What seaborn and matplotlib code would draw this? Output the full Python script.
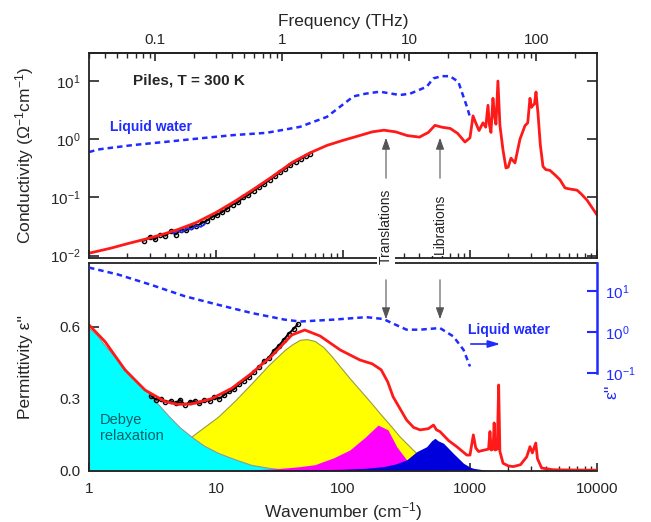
import matplotlib
matplotlib.use("Agg")
import matplotlib.pyplot as plt
import seaborn as sns
import pandas as pd
from matplotlib.ticker import FixedLocator, FixedFormatter, NullLocator, LogLocator, NullFormatter

# ---------------- data ----------------
# Top panel: conductivity (Ohm^-1 cm^-1) of simulated water (red)
red_top_wn = [1, 1.5, 2, 3, 4, 5, 7, 10, 14, 20, 28, 40, 55, 75, 100, 130, 170, 210, 260, 320,
              400, 470, 530, 600, 700, 800, 913, 1000, 1057, 1110, 1178, 1266, 1330, 1386, 1420,
              1463, 1517, 1560, 1602, 1660, 1722, 1820, 1920, 2000, 2102, 2261, 2477, 2712, 2850,
              2968, 3050, 3133, 3220, 3311, 3430, 3580, 3757, 3950, 4266, 4700, 5115, 5601, 6000,
              6960, 7500, 8340, 10000]
red_top_sigma = [0.011, 0.0135, 0.016, 0.02, 0.024, 0.028, 0.037, 0.055, 0.085, 0.14, 0.23, 0.40,
                 0.58, 0.78, 0.95, 1.12, 1.33, 1.42, 1.33, 1.15, 1.08, 1.3, 1.72, 1.6, 1.52, 1.25,
                 0.89, 1.05, 2.5, 1.9, 1.4, 1.9, 1.6, 3.8, 1.8, 1.3, 5.0, 2.5, 1.8, 9.9, 1.7, 0.65,
                 0.32, 0.33, 0.47, 0.39, 1.0, 1.7, 1.9, 5.0, 3.5, 3.8, 4.0, 6.4, 2.8, 0.8, 0.34,
                 0.30, 0.29, 0.24, 0.20, 0.145, 0.14, 0.133, 0.115, 0.09, 0.05]

# Top panel: liquid water conductivity (blue dashed)
water_top_wn = [1, 1.22, 2.23, 4.1, 7.5, 13.7, 25, 45.8, 74.6, 121, 150, 195, 280, 337, 456,
                515, 600, 696, 810, 889, 950, 1000]
water_top_sigma = [0.60, 0.67, 0.79, 0.90, 1.03, 1.17, 1.28, 1.62, 2.4, 5.4, 6.0, 6.5, 5.7, 6.0,
                   7.9, 11.0, 12.0, 12.0, 9.6, 5.3, 3.5, 2.4]

# Top panel: experimental points (black) and a short blue data segment
exp_top_wn = [2.7, 3.0, 3.3, 3.6, 4.0, 4.4, 4.8, 5.3, 5.8, 6.4, 7.0, 7.7, 8.5, 9.3, 10.2, 11.2,
              12.3, 13.5, 14.9, 16.4, 18, 19.8, 21.8, 24, 26.4, 29, 31.9, 35.1, 38.6, 42.5, 46.7,
              51.4, 55]
exp_top_sigma = [0.018, 0.021, 0.019, 0.023, 0.022, 0.026, 0.023, 0.028, 0.027, 0.031, 0.032,
                 0.036, 0.040, 0.046, 0.050, 0.056, 0.064, 0.075, 0.082, 0.10, 0.11, 0.13, 0.15,
                 0.17, 0.20, 0.23, 0.27, 0.31, 0.36, 0.41, 0.46, 0.52, 0.56]
exp2_top_wn = [4.6, 5.0, 5.4, 5.9, 6.4, 7.0, 7.6, 8.3]
exp2_top_sigma = [0.024, 0.027, 0.025, 0.030, 0.028, 0.033, 0.031, 0.036]

# Bottom panel: permittivity eps'' (red)
red_bot_wn = [1, 1.34, 1.92, 2.76, 3.97, 5.0, 6.43, 9.25, 13.3, 19.1, 27.5, 39.5, 50, 66, 95,
              136, 170, 200, 225, 248, 280, 317, 360, 405, 470, 516, 545, 580, 680, 787, 945,
              1000, 1063, 1110, 1168, 1300, 1400, 1437, 1470, 1520, 1550, 1580, 1640, 1682,
              1720, 1822, 2000, 2195, 2500, 2800, 2967, 3100, 3295, 3400, 3667, 4500, 6000, 10000]
red_bot_eps = [0.607, 0.537, 0.42, 0.336, 0.288, 0.276, 0.278, 0.30, 0.343, 0.406, 0.478, 0.565,
               0.586, 0.561, 0.503, 0.461, 0.445, 0.42, 0.37, 0.308, 0.26, 0.211, 0.18, 0.17,
               0.175, 0.19, 0.17, 0.163, 0.125, 0.10, 0.065, 0.065, 0.149, 0.095, 0.08, 0.086,
               0.09, 0.163, 0.086, 0.09, 0.199, 0.086, 0.09, 0.357, 0.08, 0.031, 0.02, 0.017,
               0.025, 0.058, 0.10, 0.074, 0.115, 0.05, 0.011, 0.004, 0.003, 0.002]

# Bottom panel: experimental eps'' (black)
exp_bot_wn = [3.1, 3.4, 3.7, 4.0, 4.4, 4.8, 5.2, 5.7, 6.2, 6.8, 7.4, 8.1, 8.9, 9.7, 10.6, 11.6,
              12.7, 13.9, 15.2, 16.6, 18.2, 19.9, 21.8, 23.8, 26, 28.5, 31.2, 34.1, 37.3, 40.8, 44]
exp_bot_eps = [0.31, 0.295, 0.30, 0.285, 0.29, 0.28, 0.295, 0.275, 0.285, 0.29, 0.28, 0.295,
               0.29, 0.305, 0.30, 0.315, 0.33, 0.34, 0.36, 0.375, 0.39, 0.41, 0.43, 0.455, 0.47,
               0.50, 0.52, 0.545, 0.57, 0.59, 0.61]

# Bottom panel: liquid water eps'' (blue dashed, right log axis)
water_bot_wn = [1, 1.7, 3.1, 5.7, 10.4, 19.1, 34.8, 46, 84, 153, 208, 260, 317, 405, 580, 740,
                889, 1000]
water_bot_eps = [37, 25, 14, 7.4, 4.6, 2.9, 2.0, 1.8, 2.0, 2.3, 2.07, 1.5, 1.14, 1.14, 1.25,
                 0.78, 0.37, 0.145]

# Bottom panel: fitted components
debye_wn = [1, 1.15, 1.34, 1.5, 1.7, 1.95, 2.2, 2.6, 3.1, 3.6, 4.2, 5.2, 6.4, 8, 10.4, 14, 19,
            26, 35, 50, 100]
debye_eps = [0.594, 0.565, 0.52, 0.49, 0.46, 0.42, 0.39, 0.35, 0.31, 0.27, 0.23, 0.18, 0.142,
             0.105, 0.074, 0.048, 0.024, 0.012, 0.004, 0.001, 0.0]
yellow_wn = [1, 2, 4, 6.4, 10.4, 14, 19.1, 26, 34.8, 40, 45.8, 52, 60, 70, 82, 95, 115, 136, 165,
             195, 235, 280, 357, 456, 550, 650]
yellow_eps = [0.01, 0.03, 0.08, 0.142, 0.225, 0.29, 0.364, 0.44, 0.503, 0.527, 0.545, 0.548,
              0.54, 0.515, 0.475, 0.433, 0.38, 0.336, 0.285, 0.239, 0.19, 0.142, 0.086, 0.031,
              0.01, 0.0]
magenta_wn = [10, 20, 30, 46, 60, 84, 113, 150, 189, 226, 265, 317, 380, 450, 520]
magenta_eps = [0.001, 0.004, 0.008, 0.017, 0.025, 0.053, 0.086, 0.14, 0.19, 0.17, 0.10, 0.045,
               0.017, 0.003, 0.0]
blue_wn = [20, 50, 100, 150, 208, 260, 317, 380, 456, 500, 530, 560, 620, 740, 889, 1000, 1063,
           1300, 1600]
blue_eps = [0.001, 0.003, 0.006, 0.01, 0.017, 0.028, 0.045, 0.079, 0.10, 0.125, 0.135, 0.125,
            0.114, 0.072, 0.031, 0.015, 0.01, 0.003, 0.0]

freq_ticks = [0.1, 1, 10, 100]
freq_labels = ["0.1", "1", "10", "100"]
wn_ticks = [1, 10, 100, 1000, 10000]
wn_labels = ["1", "10", "100", "1000", "10000"]
sig_ticks = [0.01, 0.1, 1, 10]
sig_labels = [r"$\mathdefault{10^{-2}}$", r"$\mathdefault{10^{-1}}$",
              r"$\mathdefault{10^{0}}$", r"$\mathdefault{10^{1}}$"]
eps_ticks = [0.0, 0.3, 0.6]
eps_labels = ["0.0", "0.3", "0.6"]
r_ticks = [0.1, 1, 10]
r_labels = [r"$\mathdefault{10^{-1}}$", r"$\mathdefault{10^{0}}$", r"$\mathdefault{10^{1}}$"]

# ---------------- style ----------------
sns.set_theme(style="ticks")
plt.rcParams["font.family"] = ["Liberation Sans", "DejaVu Sans"]
plt.rcParams["mathtext.default"] = "regular"
plt.rcParams["axes.linewidth"] = 1.3
plt.rcParams["axes.edgecolor"] = "#222222"

RED = "#ff1a1a"
BLUE = "#1f2bff"
FS_TICK = 11
FS_LAB = 12.5

fig = plt.figure(figsize=(6.51, 5.22), dpi=100)
ax_t = fig.add_axes([0.1367, 0.5057, 0.7803, 0.3928])
ax_b = fig.add_axes([0.1367, 0.0983, 0.7803, 0.3979])


def line(ax, x, y, **kw):
    df = pd.DataFrame({"x": x, "y": y})
    sns.lineplot(data=df, x="x", y="y", ax=ax, estimator=None, sort=False, legend=False, **kw)


# ---------------- top panel ----------------
ax_t.set_xscale("log")
ax_t.set_yscale("log")
line(ax_t, water_top_wn, water_top_sigma, color=BLUE, lw=1.8, linestyle=(0, (2.2, 1.6)))
line(ax_t, exp_top_wn, exp_top_sigma, color="black", lw=1.4, marker="o", markersize=3.0,
     markerfacecolor="none", markeredgecolor="black", markeredgewidth=1.0)
line(ax_t, exp2_top_wn, exp2_top_sigma, color=BLUE, lw=1.2)
line(ax_t, red_top_wn, red_top_sigma, color=RED, lw=2.0)
ax_t.set_xlim(1, 10000)
ax_t.set_ylim(0.0091, 30)
ax_t.set_xlabel("")
ax_t.set_ylabel(r"Conductivity ($\Omega^{-1}$cm$^{-1}$)", fontsize=FS_LAB)
ax_t.yaxis.set_label_coords(-0.105, 0.5)
ax_t.yaxis.set_major_locator(FixedLocator(sig_ticks))
ax_t.yaxis.set_major_formatter(FixedFormatter(sig_labels))
ax_t.yaxis.set_minor_locator(NullLocator())
ax_t.xaxis.set_major_locator(FixedLocator(wn_ticks))
ax_t.xaxis.set_minor_locator(LogLocator(base=10, subs=range(2, 10)))
ax_t.xaxis.set_minor_formatter(NullFormatter())
ax_t.tick_params(axis="x", which="both", direction="in", bottom=True, top=False,
                 labelbottom=False)
ax_t.tick_params(axis="x", which="major", length=6, width=1.2)
ax_t.tick_params(axis="x", which="minor", length=3.5, width=1.0)
ax_t.tick_params(axis="y", which="major", direction="in", left=True, right=True, length=7,
                 width=1.2, labelsize=FS_TICK, pad=6)

sec = ax_t.secondary_xaxis("top", functions=(lambda x: x / 33.356, lambda x: x * 33.356))
sec.xaxis.set_major_locator(FixedLocator(freq_ticks))
sec.xaxis.set_major_formatter(FixedFormatter(freq_labels))
sec.xaxis.set_minor_locator(LogLocator(base=10, subs=range(2, 10)))
sec.xaxis.set_minor_formatter(NullFormatter())
sec.tick_params(axis="x", which="major", direction="in", length=6, width=1.2,
                labelsize=FS_TICK, pad=4)
sec.tick_params(axis="x", which="minor", direction="in", length=3.5, width=1.0)
sec.set_xlabel("Frequency (THz)", fontsize=FS_LAB, labelpad=5)

ax_t.text(0.087, 0.868, "Piles, T = 300 K", transform=ax_t.transAxes, fontsize=11,
          fontweight="bold", va="center", ha="left")
ax_t.text(0.041, 0.64, "Liquid water", transform=ax_t.transAxes, fontsize=10,
          fontweight="bold", color=BLUE, va="center", ha="left")

# ---------------- bottom panel ----------------
ax_b.set_xscale("log")
ax_b.fill_between(yellow_wn, 0, yellow_eps, color="#ffff00", edgecolor="#9a9a40", lw=0.8,
                  zorder=1)
ax_b.fill_between(debye_wn, 0, debye_eps, color="#00ffff", edgecolor="#8a9a9a", lw=0.8,
                  zorder=2)
ax_b.fill_between(magenta_wn, 0, magenta_eps, color="#ff00ff", lw=0, zorder=3)
ax_b.fill_between(blue_wn, 0, blue_eps, color="#0000dd", lw=0, zorder=4)
line(ax_b, exp_bot_wn, exp_bot_eps, color="black", lw=1.4, marker="o", markersize=3.0,
     markerfacecolor="none", markeredgecolor="black", markeredgewidth=1.0, zorder=5)
line(ax_b, red_bot_wn, red_bot_eps, color=RED, lw=2.0, zorder=6)
ax_b.set_xlim(1, 10000)
ax_b.set_ylim(0, 0.865)
ax_b.set_xlabel(r"Wavenumber (cm$^{-1}$)", fontsize=FS_LAB, labelpad=3)
ax_b.set_ylabel("Permittivity ε''", fontsize=FS_LAB)
ax_b.yaxis.set_label_coords(-0.11, 0.5)
ax_b.yaxis.set_major_locator(FixedLocator(eps_ticks))
ax_b.yaxis.set_major_formatter(FixedFormatter(eps_labels))
ax_b.xaxis.set_major_locator(FixedLocator(wn_ticks))
ax_b.xaxis.set_major_formatter(FixedFormatter(wn_labels))
ax_b.xaxis.set_minor_locator(LogLocator(base=10, subs=range(2, 10)))
ax_b.xaxis.set_minor_formatter(NullFormatter())
ax_b.tick_params(axis="x", which="both", direction="in", bottom=True, top=False,
                 labelsize=FS_TICK, pad=8)
ax_b.tick_params(axis="x", which="major", length=6, width=1.2)
ax_b.tick_params(axis="x", which="minor", length=3.5, width=1.0)
ax_b.tick_params(axis="y", direction="in", left=True, right=False, length=7, width=1.2,
                 labelsize=FS_TICK, pad=6)
for sp in ax_b.spines.values():
    sp.set_zorder(10)

ax_r = ax_b.twinx()
ax_r.set_yscale("log")
line(ax_r, water_bot_wn, water_bot_eps, color=BLUE, lw=1.8, linestyle=(0, (2.2, 1.6)))
ax_r.set_xlim(1, 10000)
ax_r.set_ylim(10 ** -3.375, 10 ** 1.68)
ax_r.set_ylabel("")
ax_r.yaxis.set_major_locator(FixedLocator(r_ticks))
ax_r.yaxis.set_major_formatter(FixedFormatter(r_labels))
ax_r.yaxis.set_minor_locator(NullLocator())
ax_r.tick_params(axis="y", direction="in", right=True, length=7, width=1.5, colors=BLUE,
                 labelsize=FS_TICK, pad=6)
for k in ["top", "left", "bottom"]:
    ax_r.spines[k].set_visible(False)
ax_r.spines["right"].set_color(BLUE)
ax_r.spines["right"].set_linewidth(1.8)
ax_r.spines["right"].set_bounds(0.1, 10 ** 1.68)
ax_b.spines["right"].set_visible(False)

fig.text(612 / 651, 1 - 392 / 522, "ε''", color=BLUE, fontsize=FS_LAB, rotation=90,
         ha="center", va="center")

# text annotations inside the bottom panel
fig.text(468 / 651, 1 - 330 / 522, "Liquid water", color=BLUE, fontsize=10,
         fontweight="bold", ha="left", va="center")
ax_b.annotate("", xy=(503, 522 - 344), xytext=(468, 522 - 344), xycoords="figure pixels",
              textcoords="figure pixels",
              arrowprops=dict(arrowstyle="-|>,head_width=0.18,head_length=0.6", color=BLUE,
                              lw=1.2))
fig.text(100 / 651, 1 - 428 / 522, "Debye\nrelaxation", color="#00606a", fontsize=10.5,
         ha="left", va="center", linespacing=1.2)

# Translations / Librations markers spanning the two panels
for xp, label, yc in [(386, "Translations", 226), (440, "Librations", 224)]:
    fig.text(xp / 651, 1 - yc / 522, label, rotation=90, fontsize=10, ha="center", va="center",
             color="#222222", zorder=20,
             bbox=dict(facecolor="white", edgecolor="none", pad=1.5))
    fig.add_artist(matplotlib.patches.FancyArrowPatch(
        (xp, 522 - 181), (xp, 522 - 135), transform=None,
        arrowstyle="-|>,head_width=2.5,head_length=7", color="#555555", lw=0.8,
        mutation_scale=1, zorder=20))
    fig.add_artist(matplotlib.patches.FancyArrowPatch(
        (xp, 522 - 277), (xp, 522 - 322), transform=None,
        arrowstyle="-|>,head_width=2.5,head_length=7", color="#555555", lw=0.8,
        mutation_scale=1, zorder=20))

fig.savefig("out.png", dpi=100)
